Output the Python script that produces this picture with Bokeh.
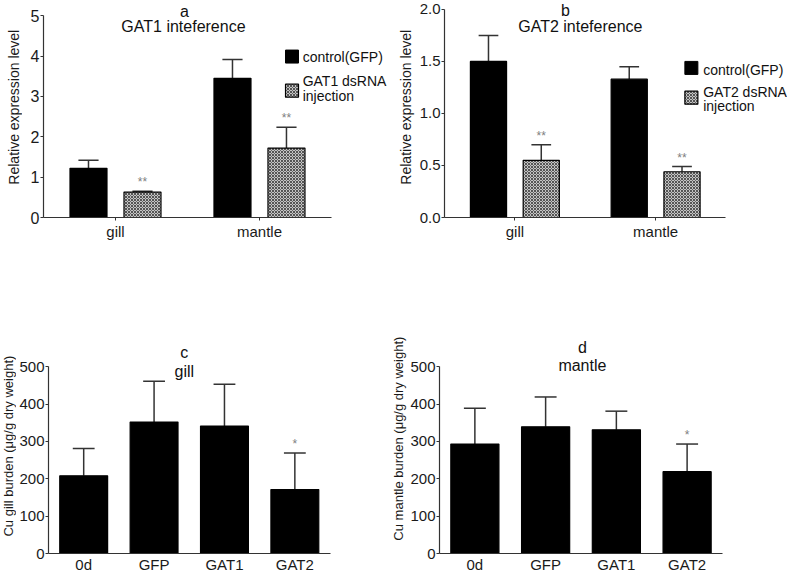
import math
from bokeh.plotting import figure
from bokeh.models import ColumnDataSource, Range1d, Label, FixedTicker, NumeralTickFormatter
from bokeh.transform import dodge
from bokeh.layouts import column, row
from bokeh.core.properties import value
from bokeh.embed import file_html
from bokeh.resources import INLINE

# ---------------- data ----------------
tissues = ["gill", "mantle"]

a_control = [1.22, 3.45]
a_control_err = [0.20, 0.47]
a_dsrna = [0.63, 1.72]
a_dsrna_err = [0.02, 0.52]
a_sig = ["**", "**"]

b_control = [1.50, 1.33]
b_control_err = [0.25, 0.12]
b_dsrna = [0.55, 0.44]
b_dsrna_err = [0.15, 0.05]
b_sig = ["**", "**"]

treatments = ["0d", "GFP", "GAT1", "GAT2"]
c_vals = [208, 352, 341, 171]
c_err = [73, 109, 112, 98]
c_sig = ["", "", "", "*"]
d_vals = [293, 339, 331, 219]
d_err = [96, 80, 50, 74]
d_sig = ["", "", "", "*"]

FONT = "Liberation Sans"
HATCH = dict(fill_color="#c4c4c4", hatch_pattern="x", hatch_color="#555555",
             hatch_scale=3, hatch_weight=1)


def make_fig(cats, ymax, yend, xend, yticks, width, height, mb, xtick_out, ytick_size,
             fmt=None):
    n = len(cats)
    p = figure(width=width, height=height, x_range=Range1d(0, xend),
               y_range=Range1d(0, yend), output_backend="svg", toolbar_location=None,
               min_border_left=mb[0], min_border_right=mb[1],
               min_border_top=mb[2], min_border_bottom=mb[3])
    p.outline_line_color = None
    p.xgrid.grid_line_color = None
    p.ygrid.grid_line_color = None
    p.yaxis.ticker = FixedTicker(ticks=yticks)
    p.yaxis.bounds = (0, ymax)
    if fmt:
        p.yaxis.formatter = NumeralTickFormatter(format=fmt)
    centers = [i + 0.5 for i in range(n)]
    p.xaxis.ticker = FixedTicker(ticks=centers)
    p.xaxis.major_label_overrides = {c: t for c, t in zip(centers, cats)}
    p.xaxis.bounds = (0, n)
    for ax in (p.xaxis[0], p.yaxis[0]):
        ax.axis_line_color = "#333333"
        ax.axis_line_width = 1.2
        ax.major_tick_line_color = "#333333"
        ax.major_tick_in = 0
        ax.minor_tick_in = 0
        ax.minor_tick_out = 0
        ax.major_label_text_font = FONT
        ax.major_label_text_color = "#1a1a1a"
    p.yaxis.major_label_text_font_size = ytick_size
    p.xaxis.major_label_text_font_size = "15px"
    p.yaxis.major_tick_out = 3
    p.yaxis.major_label_standoff = 1
    p.xaxis.major_tick_out = xtick_out
    p.xaxis.major_label_standoff = 2
    return p


def axis_title_fig(text, width, height, cx, cy, size):
    """A narrow blank figure holding a rotated y-axis title (cx, cy in pixels from top-left)."""
    p = figure(width=width, height=height, x_range=Range1d(0, width),
               y_range=Range1d(0, height), output_backend="svg", toolbar_location=None,
               min_border=0)
    p.axis.visible = False
    p.grid.visible = False
    p.outline_line_color = None
    p.add_layout(Label(x=cx, y=height - cy, text=text, text_font=FONT,
                       text_font_size=size, text_align="center", text_baseline="middle",
                       angle=math.pi / 2, text_color="#1a1a1a"))
    return p


def add_bars(p, cats, vals, errs, sig, off, width, capw, hatched):
    xs = [i + 0.5 for i in range(len(cats))]
    tops = [v + e for v, e in zip(vals, errs)]
    src = ColumnDataSource(dict(x=xs, val=vals, top=tops, sig=sig))
    p.segment(x0=dodge("x", off), y0="val", x1=dodge("x", off), y1="top", source=src,
              line_color="#333333", line_width=1.5)
    p.segment(x0=dodge("x", off - capw), y0="top", x1=dodge("x", off + capw), y1="top",
              source=src, line_color="#333333", line_width=1.5)
    kw = HATCH if hatched else dict(fill_color="black")
    p.vbar(x=dodge("x", off), top="val", bottom=0, width=width, source=src,
           line_color="black", line_width=1.2, **kw)
    p.text(x=dodge("x", off), y="top", text="sig", source=src,
           text_align="center", text_baseline="bottom", y_offset=-2,
           text_color="#808080", text_font_size="12px", text_font=value(FONT))


def label(p, text, x, y, size):
    p.add_layout(Label(x=x, y=y, text=text, text_font=FONT, text_font_size=size,
                       text_align="center", text_baseline="middle",
                       text_color="#111111"))


def legend(p, sq_x, sq_y1, sq_y2, tx, ty1, ty2a, ty2b, name):
    p.scatter(x=[sq_x], y=[sq_y1], marker="square", size=13, fill_color="black",
              line_color="black")
    p.scatter(x=[sq_x], y=[sq_y2], marker="square", size=13, line_color="black",
              line_width=1.2, **HATCH)
    for t, yy in (("control(GFP)", ty1), (name + " dsRNA", ty2a), ("injection", ty2b)):
        p.add_layout(Label(x=tx, y=yy, text=t, text_font=FONT, text_font_size="14px",
                           text_align="left", text_baseline="middle",
                           text_color="#111111"))


# ---------------- panel a ----------------
la = axis_title_fig("Relative expression level", 22, 242, 13, 119, "14px")
pa = make_fig(tissues, 5, 5.38, 2.41, [0, 1, 2, 3, 4, 5], 368, 242, (21, 0, 0, 23), 3, "16px")
add_bars(pa, tissues, a_control, a_control_err, ["", ""], -0.1875, 0.257, 0.07, False)
add_bars(pa, tissues, a_dsrna, a_dsrna_err, a_sig, 0.1875, 0.257, 0.07, True)
label(pa, "a", 0.979, 5.11, "16px")
label(pa, "GAT1 inteference", 0.972, 4.74, "16px")
legend(pa, 1.726, 3.99, 3.145, 1.80, 3.98, 3.39, 3.0, "GAT1")

# ---------------- panel b ----------------
lb = axis_title_fig("Relative expression level", 26, 242, 15, 119, "14px")
pb = make_fig(tissues, 2.0, 2.086, 2.437, [0, 0.5, 1.0, 1.5, 2.0], 371, 242, (25, 0, 0, 23), 3,
              "15px", "0.0")
add_bars(pb, tissues, b_control, b_control_err, ["", ""], -0.1875, 0.257, 0.07, False)
add_bars(pb, tissues, b_dsrna, b_dsrna_err, b_sig, 0.1875, 0.257, 0.07, True)
label(pb, "b", 0.859, 1.99, "16px")
label(pb, "GAT2 inteference", 0.965, 1.838, "16px")
legend(pb, 1.754, 1.438, 1.152, 1.838, 1.419, 1.21, 1.076, "GAT2")

# ---------------- panel c ----------------
lc = axis_title_fig("Cu gill burden (\u03bcg/g dry weight)", 16, 333, 8, 218, "13px")
pc = make_fig(treatments, 500, 832.5, 4.859, [0, 100, 200, 300, 400, 500], 374, 333,
              (29, 0, 0, 20), 0, "15px")
add_bars(pc, treatments, c_vals, c_err, c_sig, 0.0, 0.68, 0.155, False)
label(pc, "c", 1.93, 537, "16px")
label(pc, "gill", 1.93, 487, "16px")

# ---------------- panel d ----------------
ld = axis_title_fig("Cu mantle burden (\u03bcg/g dry weight)", 17, 333, 8, 210, "13px")
pd_ = make_fig(treatments, 500, 832.5, 4.919, [0, 100, 200, 300, 400, 500], 380, 333,
               (32, 0, 0, 20), 0, "15px")
add_bars(pd_, treatments, d_vals, d_err, d_sig, 0.0, 0.68, 0.155, False)
label(pd_, "d", 2.02, 551, "16px")
label(pd_, "mantle", 2.02, 503, "16px")

layout = column(row(la, pa, lb, pb), row(lc, pc, ld, pd_))
open("out.html", "w").write(file_html(layout, INLINE))
